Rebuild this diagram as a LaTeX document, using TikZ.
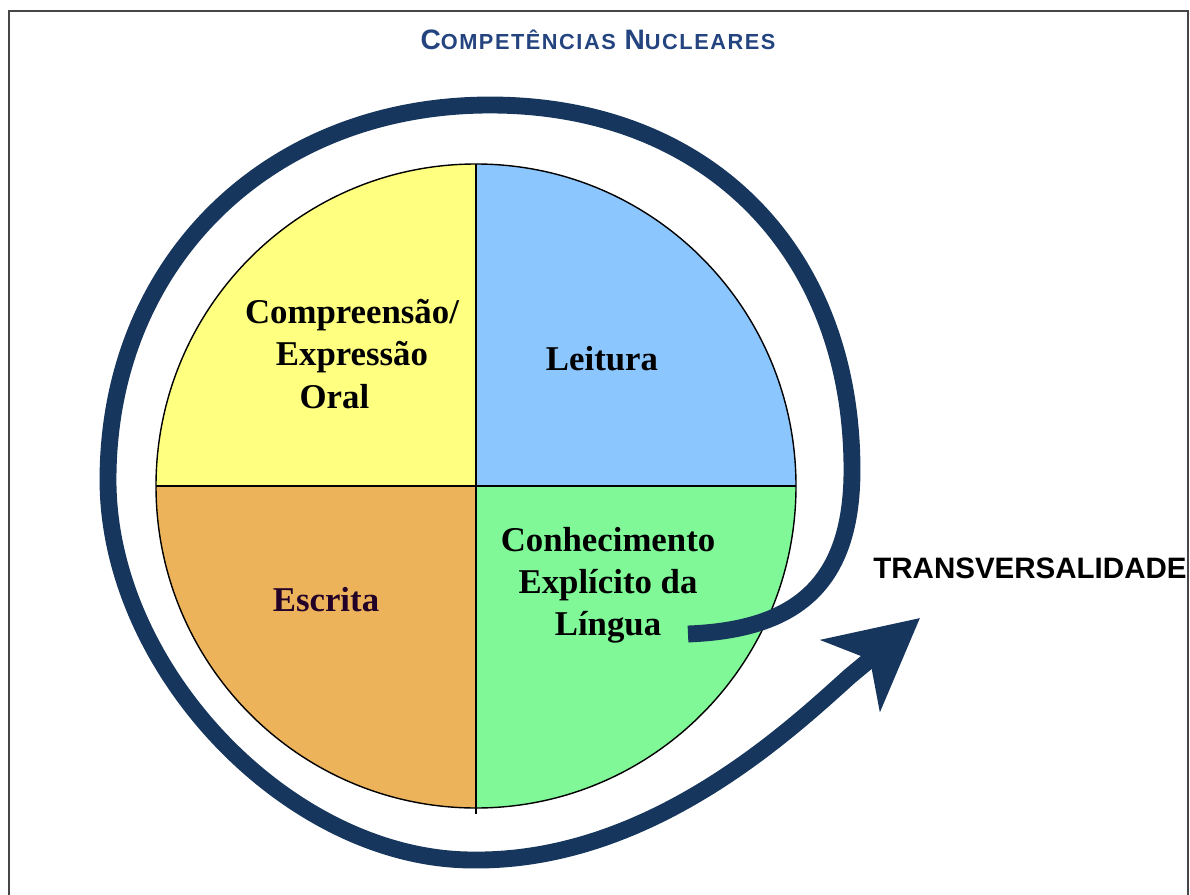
\documentclass[tikz,border=0pt]{standalone}
\usepackage{fontspec}
\setmainfont{Liberation Serif}
\newfontfamily\arialfont{Liberation Sans}
\newfontfamily\titlefont[LetterSpace=7]{Liberation Sans}
\usetikzlibrary{arrows.meta}
\definecolor{quadyellow}{RGB}{255,255,128}
\definecolor{quadblue}{RGB}{140,198,255}
\definecolor{quadorange}{RGB}{237,179,90}
\definecolor{quadgreen}{RGB}{128,248,152}
\definecolor{spiralnavy}{RGB}{23,54,93}
\definecolor{titleblue}{RGB}{36,68,128}
\definecolor{framegray}{RGB}{70,70,70}
\definecolor{escritapurple}{RGB}{35,0,40}
\tikzset{
    quadtext/.style={font=\bfseries\fontsize{19.8}{24}\selectfont, align=center, inner sep=0pt},
    spiral/.style={draw=spiralnavy, line width=9.6pt, line join=round,
        -{Stealth[length=51pt, width=52pt, inset=14pt]}},
}
\newcommand{\tcap}[1]{{\fontsize{16}{18}\selectfont #1}}
\newcommand{\tsmall}[1]{{\fontsize{12.4}{14}\selectfont #1}}

\begin{document}
\begin{tikzpicture}[x=0.02cm, y=-0.02cm]
    \useasboundingbox (0,0) rectangle (1190,895);
    \draw[framegray, line width=1.1pt] (9,895) -- (9,11) -- (1188,11) -- (1188,895);
    \node[text=titleblue, anchor=base, inner sep=0pt] (title) at (598,50)
        {\titlefont\bfseries\tcap{C}\tsmall{OMPETÊNCIAS}\hspace{5pt}\tcap{N}\tsmall{UCLEARES}};

    \coordinate (o) at (476,486);
    \begin{scope}
        \clip (o) ellipse [x radius=320, y radius=322];
        \fill[quadyellow] (150,150) rectangle (o);
        \fill[quadblue] (800,150) rectangle (o);
        \fill[quadorange] (150,820) rectangle (o);
        \fill[quadgreen] (800,820) rectangle (o);
    \end{scope}
    \draw[line width=0.8pt] (o) ellipse [x radius=320, y radius=322];
    \draw[line width=0.8pt] (476,164) -- (476,814);
    \draw[line width=0.8pt] (156,486) -- (796,486);

    \node[quadtext] (oral) at (352,354) {Compreensão/\\Expressão\\Oral\hspace*{20pt}};
    \node[quadtext, anchor=base] (leitura) at (602,370) {Leitura};
    \node[quadtext, anchor=base, text=escritapurple] (escrita) at (326,611) {Escrita};
    \node[quadtext] (cel) at (608,585) {Conhecimento\\Explícito da\\Língua};

    \coordinate (start) at (688,634);
    \coordinate (tip) at (920,618);
    \draw[spiral] (start) .. controls (790,630) and (852,590) .. (852,470)
        .. controls (852,251) and (707,105) .. (490,105)
        .. controls (268,105) and (108,263) .. (108,480)
        .. controls (108,670) and (290,860) .. (473,860)
        .. controls (650,862) and (790,730) .. (850,676) -- (tip);

    \node[anchor=base west, inner sep=0pt, font=\arialfont\bfseries\fontsize{16.8}{18}\selectfont]
        (transv) at (873,578) {TRANSVERSALIDADE};
\end{tikzpicture}
\end{document}
